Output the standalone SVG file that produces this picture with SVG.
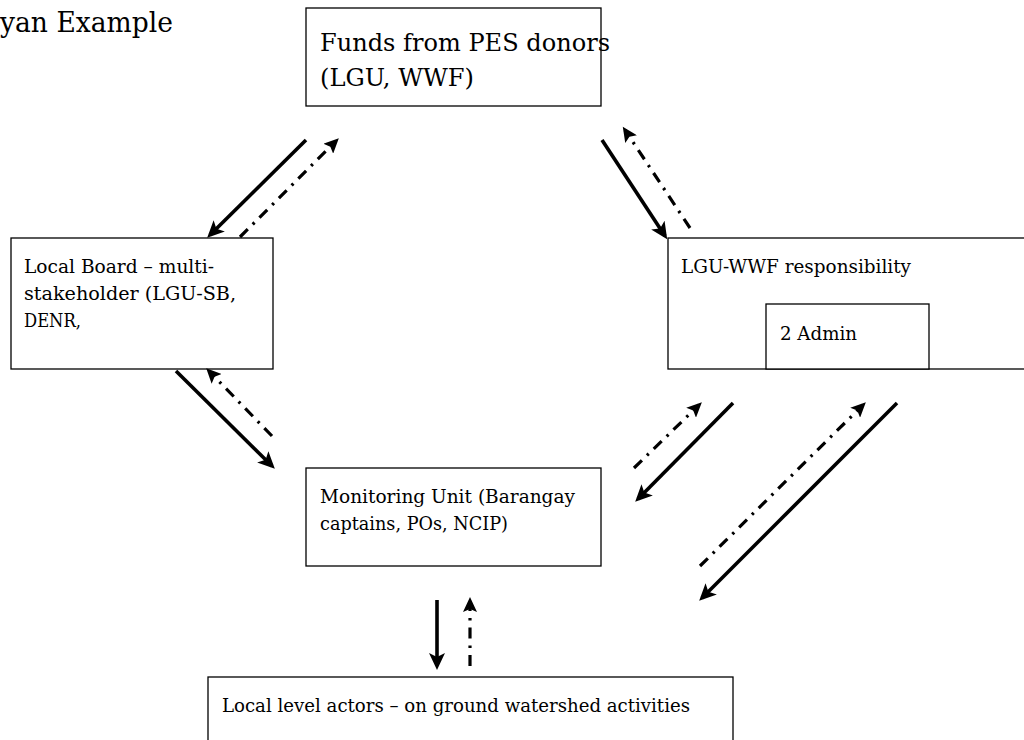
<svg xmlns="http://www.w3.org/2000/svg" width="1024" height="740" viewBox="0 0 1024 740">
<style>
.box{fill:#fff;stroke:#000;stroke-width:1.3}
.t{font-family:"DejaVu Serif","Liberation Serif",serif;fill:#000}
.s{font-size:18px}
.l{font-size:24.5px}
.solid{stroke:#000;stroke-width:3.6;fill:none}
.dd{stroke:#000;stroke-width:3.2;fill:none;stroke-dasharray:11 7 2.5 7}
</style>
<defs>
<marker id="ah" markerWidth="18" markerHeight="16" refX="13" refY="8" orient="auto" markerUnits="userSpaceOnUse">
<path d="M0,0 L17,8 L0,16 L4,8 Z" fill="#000"/>
</marker>
<marker id="ah2" markerWidth="16" markerHeight="14" refX="11" refY="7" orient="auto" markerUnits="userSpaceOnUse">
<path d="M0,0 L15,7 L0,14 L3,7 Z" fill="#000"/>
</marker>
</defs>
<rect width="1024" height="740" fill="#fff"/>
<text class="t" x="0" y="32" font-size="28" textLength="173" lengthAdjust="spacingAndGlyphs">yan Example</text>
<g id="funds">
<rect class="box" x="306" y="8" width="295" height="98"/>
<text class="t l" x="320" y="51" textLength="290" lengthAdjust="spacingAndGlyphs">Funds from PES donors</text>
<text class="t l" x="320" y="86" textLength="154" lengthAdjust="spacingAndGlyphs">(LGU, WWF)</text>
</g>
<g id="localboard">
<rect class="box" x="11" y="238" width="262" height="131"/>
<text class="t s" x="24" y="273" textLength="190" lengthAdjust="spacingAndGlyphs">Local Board – multi-</text>
<text class="t s" x="24" y="300" textLength="212" lengthAdjust="spacingAndGlyphs">stakeholder (LGU-SB,</text>
<text class="t s" x="24" y="327" textLength="57" lengthAdjust="spacingAndGlyphs">DENR,</text>
</g>
<g id="lguwwf">
<rect class="box" x="668" y="238" width="360" height="131"/>
<text class="t s" x="681" y="273" textLength="230" lengthAdjust="spacingAndGlyphs">LGU-WWF responsibility</text>
</g>
<g id="admin">
<rect class="box" x="766" y="304" width="163" height="65"/>
<text class="t s" x="780" y="340" textLength="77" lengthAdjust="spacingAndGlyphs">2 Admin</text>
</g>
<g id="monitoring">
<rect class="box" x="306" y="468" width="295" height="98"/>
<text class="t s" x="320" y="503" textLength="255" lengthAdjust="spacingAndGlyphs">Monitoring Unit (Barangay</text>
<text class="t s" x="320" y="530" textLength="188" lengthAdjust="spacingAndGlyphs">captains, POs, NCIP)</text>
</g>
<g id="locallevel">
<rect class="box" x="208" y="677" width="525" height="70"/>
<text class="t s" x="222" y="712" textLength="468" lengthAdjust="spacingAndGlyphs">Local level actors – on ground watershed activities</text>
</g>
<g id="connectors">
<line class="solid" x1="306" y1="140" x2="210" y2="235" marker-end="url(#ah)"/>
<line class="dd" x1="240" y1="237" x2="336" y2="141" marker-end="url(#ah2)"/>
<line class="solid" x1="602" y1="140" x2="665" y2="236" marker-end="url(#ah)"/>
<line class="dd" x1="690" y1="228" x2="625" y2="130" marker-end="url(#ah2)"/>
<line class="solid" x1="176" y1="371" x2="272" y2="466" marker-end="url(#ah)"/>
<line class="dd" x1="272" y1="436" x2="209" y2="371" marker-end="url(#ah2)"/>
<line class="dd" x1="634" y1="468" x2="699" y2="405" marker-end="url(#ah2)"/>
<line class="solid" x1="733" y1="403" x2="638" y2="499" marker-end="url(#ah)"/>
<line class="dd" x1="700" y1="566" x2="863" y2="405" marker-end="url(#ah2)"/>
<line class="solid" x1="897" y1="403" x2="702" y2="598" marker-end="url(#ah)"/>
<line class="solid" x1="437" y1="600" x2="437" y2="666" marker-end="url(#ah)"/>
<line class="dd" x1="470" y1="666" x2="470" y2="601" marker-end="url(#ah2)"/>
</g>
</svg>
